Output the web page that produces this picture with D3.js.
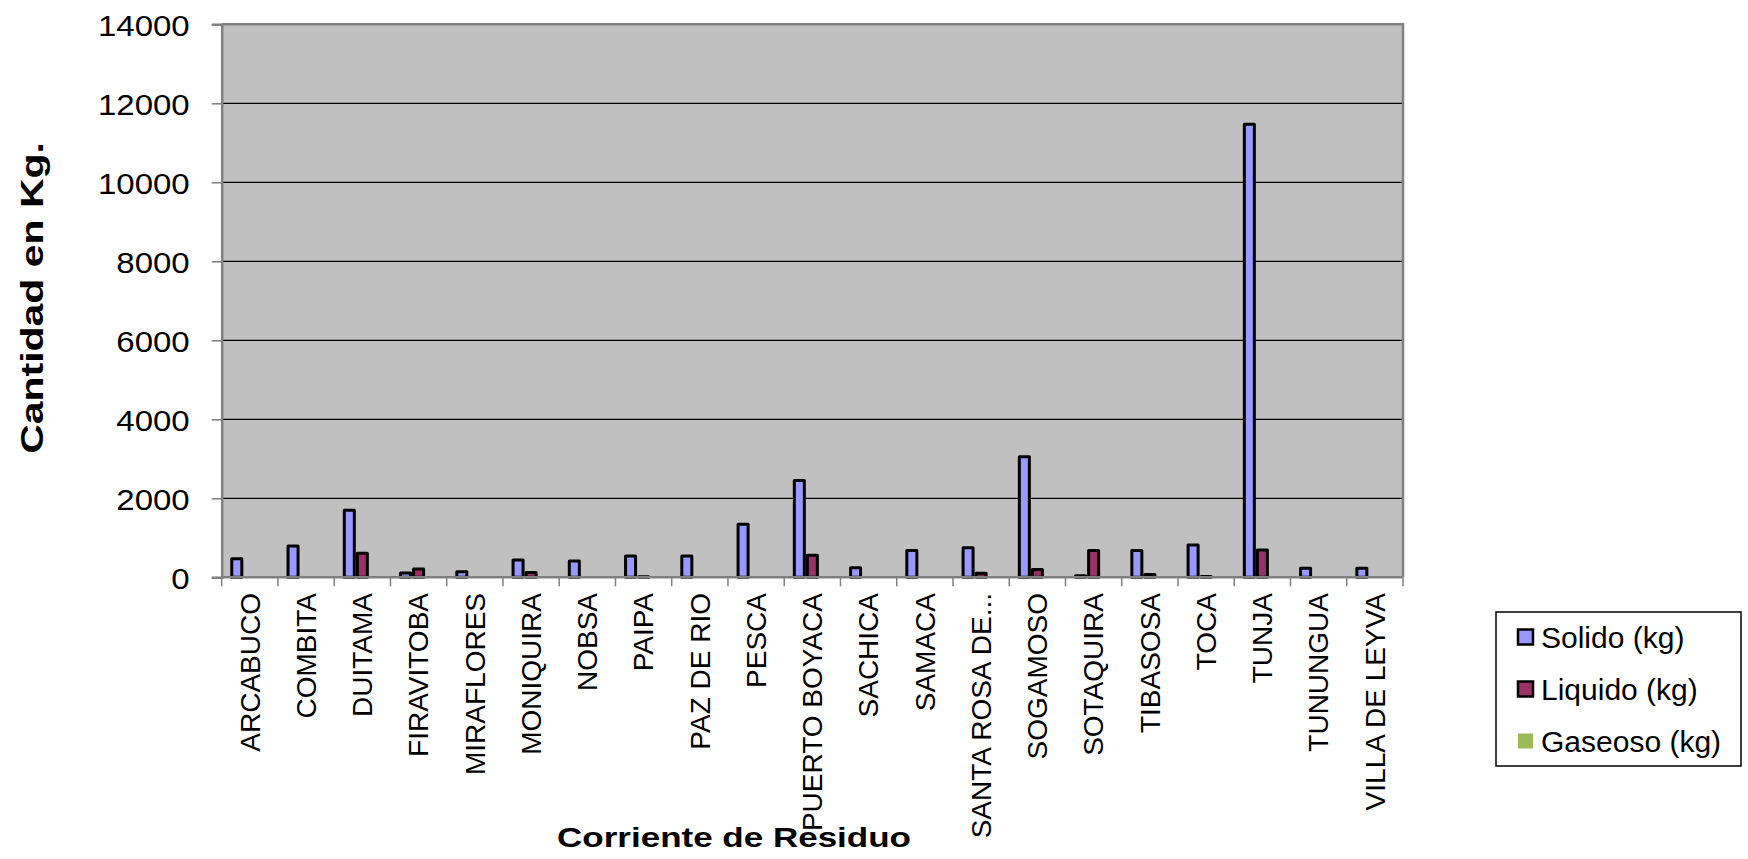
<!DOCTYPE html>
<html>
<head>
<meta charset="utf-8">
<script src="https://cdn.jsdelivr.net/npm/d3@7"></script>
<style>
  html, body { margin: 0; padding: 0; background: #ffffff; }
  svg { display: block; font-family: Arial, "Liberation Sans", sans-serif; }
</style>
</head>
<body>
<svg id="chart" width="1748" height="859"></svg>
<script>
// ---- data ----
const categories = ["ARCABUCO","COMBITA","DUITAMA","FIRAVITOBA","MIRAFLORES","MONIQUIRA","NOBSA","PAIPA","PAZ DE RIO","PESCA","PUERTO BOYACA","SACHICA","SAMACA","SANTA ROSA DE...","SOGAMOSO","SOTAQUIRA","TIBASOSA","TOCA","TUNJA","TUNUNGUA","VILLA DE LEYVA"];
const seriesNames = ["Solido (kg)","Liquido (kg)","Gaseoso (kg)"];
const solido  = [470, 790, 1700, 110, 140, 440, 410, 540, 540, 1340, 2450, 240, 680, 750, 3050, 40, 680, 820, 11470, 230, 230];
const liquido = [0, 0, 610, 210, 0, 120, 0, 15, 0, 0, 560, 0, 0, 100, 200, 680, 70, 20, 690, 0, 0];
const gaseoso = [0, 0, 0, 0, 0, 0, 0, 0, 0, 0, 0, 0, 0, 0, 0, 0, 0, 0, 0, 0, 0];
const yTicks = [0, 2000, 4000, 6000, 8000, 10000, 12000, 14000];
const colors = ["#9999FF", "#993366", "#9BBB59"];
const yTitle = "Cantidad en Kg.";
const xTitle = "Corriente de Residuo";

// ---- layout ----
const plot = { left: 221.7, right: 1403, top: 24.3, bottom: 577.3 };
const svg = d3.select("#chart");

const x0 = d3.scaleBand().domain(categories).range([plot.left, plot.right]).padding(0);
const x1 = d3.scaleBand().domain(seriesNames).range([0, x0.bandwidth()]).paddingInner(0).paddingOuter(0.66);
const y = d3.scaleLinear().domain([0, 14000]).range([plot.bottom, plot.top]);

// plot area background
svg.append("rect")
  .attr("x", plot.left).attr("y", plot.top)
  .attr("width", plot.right - plot.left).attr("height", plot.bottom - plot.top)
  .attr("fill", "#C0C0C0");

// gridlines
svg.append("g").selectAll("line")
  .data(yTicks.filter(t => t > 0 && t < 14000))
  .join("line")
  .attr("x1", plot.left).attr("x2", plot.right)
  .attr("y1", d => y(d)).attr("y2", d => y(d))
  .attr("stroke", "#000").attr("stroke-width", 1.2);

// plot border (top / right)
svg.append("path")
  .attr("d", `M${plot.left},${plot.top}H${plot.right}V${plot.bottom}`)
  .attr("fill", "none").attr("stroke", "#808080").attr("stroke-width", 2.5);

// bars
const data = categories.map((c, i) => ({
  cat: c,
  values: [solido[i], liquido[i], gaseoso[i]].map((v, j) => ({ s: seriesNames[j], v, j }))
}));
const stroke = 3;
svg.append("g").selectAll("g")
  .data(data)
  .join("g")
  .attr("transform", d => `translate(${x0(d.cat)},0)`)
  .selectAll("rect")
  .data(d => d.values.filter(e => e.v > 0))
  .join("rect")
  .attr("x", d => x1(d.s) + stroke / 2)
  .attr("width", x1.bandwidth() - stroke)
  .attr("y", d => y(d.v))
  .attr("height", d => y(0) - y(d.v))
  .attr("fill", d => colors[d.j])
  .attr("stroke", "#000")
  .attr("stroke-width", stroke)
  .attr("stroke-linejoin", "round");

// y axis
const yAxis = d3.axisLeft(y).tickValues(yTicks).tickSize(10).tickFormat(d3.format("d"));
const gy = svg.append("g").attr("transform", `translate(${plot.left},0)`).call(yAxis);
gy.select(".domain").attr("stroke", "#808080").attr("stroke-width", 2.5);
gy.selectAll(".tick line").attr("stroke", "#808080").attr("stroke-width", 1.5);
gy.selectAll(".tick text").remove();
gy.selectAll(".tick").append("text")
  .attr("transform", "translate(-32,0) scale(1.1,1)")
  .attr("text-anchor", "end")
  .attr("dy", "0.36em")
  .attr("fill", "#000")
  .attr("font-size", 30)
  .attr("font-family", "Arial, 'Liberation Sans', sans-serif")
  .text(d => d);

// x axis (baseline + ticks between categories)
svg.append("line")
  .attr("x1", plot.left).attr("x2", plot.right)
  .attr("y1", y(0)).attr("y2", y(0))
  .attr("stroke", "#808080").attr("stroke-width", 2.5);
const boundaries = categories.map(c => x0(c)).concat([x0(categories[categories.length - 1]) + x0.bandwidth()]);
svg.append("g").selectAll("line")
  .data(boundaries)
  .join("line")
  .attr("x1", d => d).attr("x2", d => d)
  .attr("y1", y(0)).attr("y2", y(0) + 9)
  .attr("stroke", "#808080").attr("stroke-width", 1.5);

// x category labels (rotated)
svg.append("g").selectAll("text")
  .data(categories)
  .join("text")
  .attr("transform", d => `translate(${x0(d) + x0.bandwidth() / 2},593) rotate(-90)`)
  .attr("text-anchor", "end")
  .attr("dy", "0.35em")
  .attr("font-size", 28)
  .attr("fill", "#000")
  .text(d => d);

// axis titles
svg.append("text")
  .attr("transform", "translate(734,847) scale(1.25,1)")
  .attr("text-anchor", "middle")
  .attr("font-size", 28)
  .attr("font-weight", "bold")
  .text(xTitle);
svg.append("text")
  .attr("transform", "translate(43,298) rotate(-90) scale(1.28,1)")
  .attr("text-anchor", "middle")
  .attr("font-size", 32)
  .attr("font-weight", "bold")
  .text(yTitle);

// legend
const legend = svg.append("g");
legend.append("rect")
  .attr("x", 1496).attr("y", 612).attr("width", 245).attr("height", 154)
  .attr("fill", "#fff").attr("stroke", "#000").attr("stroke-width", 1.5);
const li = legend.selectAll("g.item")
  .data(seriesNames)
  .join("g").attr("class", "item")
  .attr("transform", (d, i) => `translate(0,${637 + i * 52})`);
li.append("rect")
  .attr("x", 1518).attr("y", -7.5).attr("width", 15).attr("height", 15)
  .attr("fill", (d, i) => colors[i])
  .attr("stroke", (d, i) => i < 2 ? "#000" : "none")
  .attr("stroke-width", 2.5);
li.append("text")
  .attr("x", 1541).attr("dy", "0.35em")
  .attr("font-size", 30)
  .attr("fill", "#000")
  .text(d => d);
</script>
</body>
</html>
